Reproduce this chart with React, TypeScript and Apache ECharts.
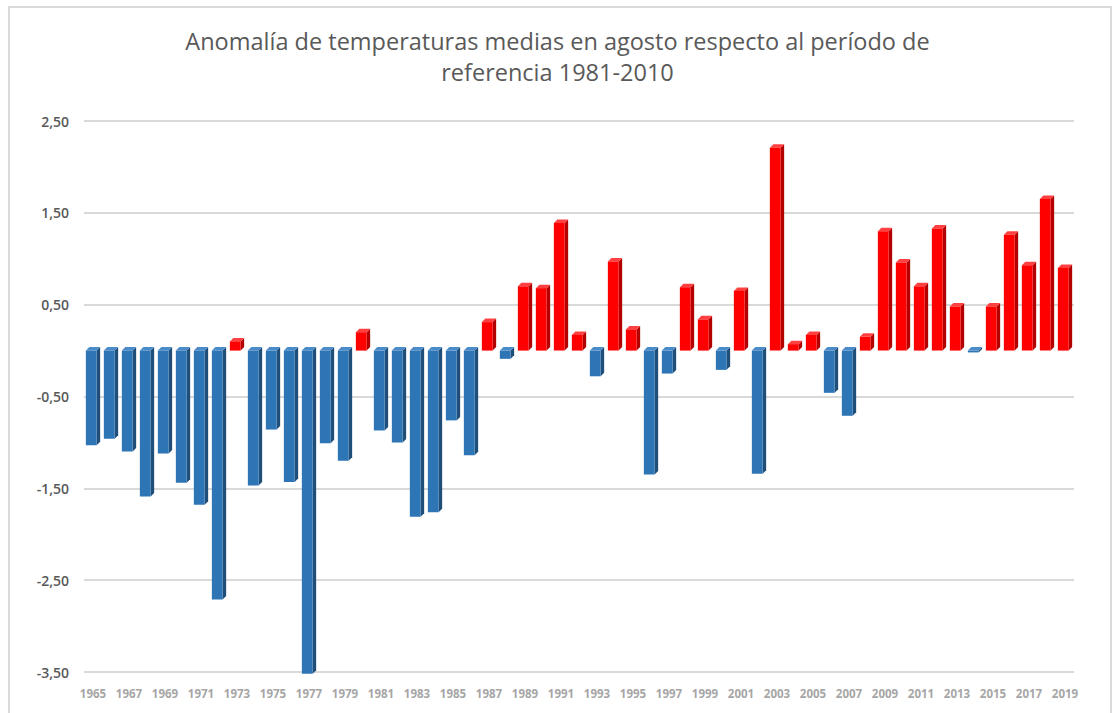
import React, { useEffect, useRef } from "react";
import * as echarts from "echarts";

const years: string[] = [];
for (let y = 1965; y <= 2019; y++) years.push(String(y));

const anomalies: number[] = [
  -1.03, -0.96, -1.10, -1.59, -1.12, -1.44, -1.68, -2.71, 0.10, -1.47,
  -0.86, -1.43, -3.52, -1.01, -1.20, 0.20, -0.87, -1.00, -1.81, -1.76,
  -0.76, -1.14, 0.31, -0.09, 0.70, 0.68, 1.39, 0.17, -0.28, 0.97,
  0.23, -1.35, -0.25, 0.69, 0.34, -0.21, 0.65, -1.34, 2.21, 0.07,
  0.17, -0.46, -0.71, 0.15, 1.30, 0.96, 0.70, 1.33, 0.48, -0.02,
  0.48, 1.26, 0.93, 1.65, 0.90,
];

const yTickValues: number[] = [-3.5, -2.5, -1.5, -0.5, 0.5, 1.5, 2.5];

const titleText = "Anomalía de temperaturas medias en agosto respecto al período de\nreferencia 1981-2010";

const POS = { front: "#FF0000", side: "#B30000", cap: "#FF4040" };
const NEG = { front: "#2E75B6", side: "#1F4E79", cap: "#4A8CC9" };

export default function App() {
  const ref = useRef<HTMLDivElement>(null);

  useEffect(() => {
    document.body.style.margin = "0";
    const chart = echarts.init(ref.current!, null, { renderer: "svg" });

    const renderItem = (params: any, api: any) => {
      const idx = api.value(0);
      const val = api.value(1);
      const p0 = api.coord([idx, 0]);
      const p1 = api.coord([idx, val]);
      const band = api.size([1, 0])[0];
      const d = 3.5;
      const w = band * 0.6;
      const fl = p0[0] - (w + d) / 2;
      const fr = fl + w;
      const y0 = p0[1];
      const y1 = p1[1];
      const c = val > 0 ? POS : NEG;
      const topY = Math.min(y0, y1);
      const botY = Math.max(y0, y1);
      return {
        type: "group",
        children: [
          {
            type: "polygon",
            shape: { points: [[fr, topY], [fr + d, topY - d], [fr + d, botY - d], [fr, botY]] },
            style: { fill: c.side },
          },
          {
            type: "polygon",
            shape: { points: [[fl, topY], [fl + d, topY - d], [fr + d, topY - d], [fr, topY]] },
            style: { fill: c.cap },
          },
          {
            type: "rect",
            shape: { x: fl, y: topY, width: w, height: Math.max(botY - topY, 0.5) },
            style: { fill: c.front },
          },
        ],
      };
    };

    chart.setOption({
      animation: false,
      backgroundColor: "#ffffff",
      title: {
        text: titleText,
        left: "center",
        top: 20,
        textStyle: {
          fontFamily: "Open Sans",
          fontSize: 23.5,
          fontWeight: "normal",
          color: "#595959",
          lineHeight: 31,
        },
      },
      graphic: [
        {
          type: "rect",
          shape: { x: 9, y: 7, width: 1102, height: 720 },
          style: { fill: "none", stroke: "#D9D9D9", lineWidth: 2 },
          silent: true,
        },
      ],
      grid: { left: 84, right: 41, top: 121, bottom: 41, containLabel: false },
      xAxis: {
        type: "category",
        data: years,
        axisLine: { show: false, onZero: false },
        axisTick: { show: false },
        axisLabel: {
          interval: 1,
          color: "#A6A6A6",
          fontFamily: "Open Sans",
          fontSize: 11.5,
          fontWeight: "bold",
          margin: 15,
        },
        splitLine: { show: false },
      },
      yAxis: {
        type: "value",
        min: -3.5,
        max: 2.5,
        interval: 0.5,
        axisLine: { show: false },
        axisTick: { show: false },
        axisLabel: {
          margin: 15,
          color: "#595959",
          fontFamily: "Open Sans",
          fontSize: 14,
          fontWeight: 600,
          formatter: (v: number) =>
            yTickValues.some((t) => Math.abs(t - v) < 1e-6) ? v.toFixed(2).replace(".", ",") : "",
        },
        splitLine: {
          show: true,
          lineStyle: { color: ["#D9D9D9", "rgba(0,0,0,0)"], width: 2 },
        },
      },
      series: [
        {
          type: "custom",
          renderItem,
          encode: { x: 0, y: 1 },
          data: anomalies.map((v, i) => [i, v]),
          clip: false,
        },
      ],
    });

    return () => chart.dispose();
  }, []);

  return <div ref={ref} style={{ width: 1115, height: 713 }} />;
}
